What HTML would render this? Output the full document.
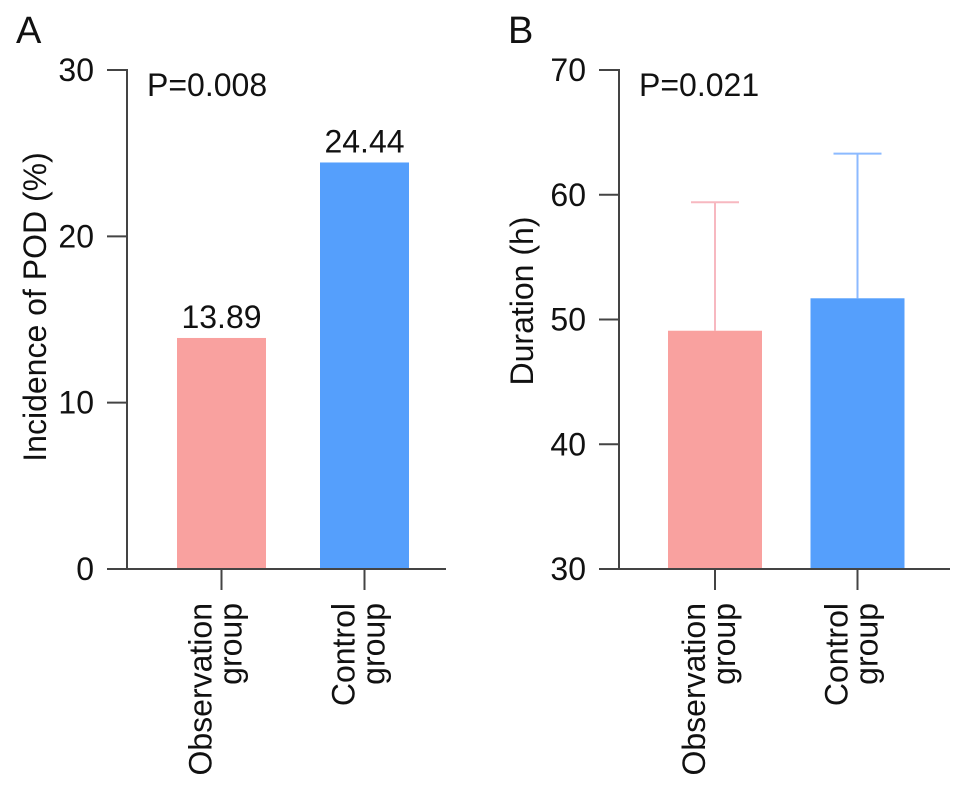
<!DOCTYPE html>
<html><head><meta charset="utf-8"><style>
html,body{margin:0;padding:0;background:#fff;}
svg{display:block;font-family:"Liberation Sans",Arial,sans-serif;}
</style></head><body>
<svg id="fig" width="969" height="790" viewBox="0 0 969 790"></svg>
<script>
const categories = ["Observation group", "Control group"];
const incidenceValues = [13.89, 24.44];
const incidenceLabels = ["13.89", "24.44"];
const incidenceTicks = [0, 10, 20, 30];
const durationMeans = [49.1, 51.7];
const durationUpper = [59.4, 63.3];
const durationTicks = [30, 40, 50, 60, 70];
const barColors = ["#f9a19f", "#559ffc"];
const errColors = ["#f7b8c0", "#8cbaff"];

const FS = 32;
const NS = "http://www.w3.org/2000/svg";
const svg = document.getElementById("fig");
function mk(tag, attrs, parent) {
  const e = document.createElementNS(NS, tag);
  for (const k in attrs) e.setAttribute(k, attrs[k]);
  (parent || svg).appendChild(e);
  return e;
}

function panel(cfg) {
  const g = mk("g", {});
  
  
  const y = v => cfg.y0 - (v - cfg.min) / (cfg.max - cfg.min) * (cfg.y0 - cfg.y1);
  const L = mk("text", {x: cfg.letterX, y: 43, "font-size": 38, fill: "#111"}, g);
  L.textContent = cfg.letter;
  
  
  cfg.cats.forEach((c, i) => {
    const cx = cfg.centers[i];
    const top = y(cfg.values[i]);
    if (cfg.upper) {
      const eb = mk("g", {stroke: errColors[i], "stroke-width": 2}, g);
      
      
      mk("line", {x1: cx, x2: cx, y1: top, y2: y(cfg.upper[i])}, eb);
      mk("line", {x1: cx - 24, x2: cx + 24, y1: y(cfg.upper[i]), y2: y(cfg.upper[i])}, eb);
    }
    const r = mk("rect", {x: cx - cfg.bw / 2, y: top, width: cfg.bw, height: cfg.y0 - top, fill: barColors[i]}, g);
    
    
    if (cfg.labels) {
      const t = mk("text", {x: cx, y: top - 10, "font-size": FS, "text-anchor": "middle", fill: "#111"}, g);
      t.textContent = cfg.labels[i];
      
      
    }
    mk("line", {x1: cx, x2: cx, y1: cfg.y0, y2: cfg.y0 + 21, stroke: "#444", "stroke-width": 2}, g);
    const lines = c.split(" ");
    const tl = mk("text", {transform: `translate(${cx},603) rotate(-90)`, "font-size": FS, "text-anchor": "end", fill: "#111"}, g);
    
    
    mk("tspan", {x: 0, y: -10}, tl).textContent = lines[0];
    mk("tspan", {x: 0, y: 20}, tl).textContent = lines[1];
  });
  const ax = mk("g", {stroke: "#444", "stroke-width": 2}, g);
  
  
  mk("line", {x1: cfg.ax, x2: cfg.ax, y1: cfg.y1 - 1, y2: cfg.y0 + 1}, ax);
  mk("line", {x1: cfg.ax - 20, x2: cfg.xEnd, y1: cfg.y0, y2: cfg.y0}, ax);
  cfg.ticks.forEach(v => {
    mk("line", {x1: cfg.ax - 20, x2: cfg.ax, y1: y(v), y2: y(v)}, ax);
    const t = mk("text", {x: cfg.ax - 33, y: y(v) + 11, "font-size": FS, "text-anchor": "end", fill: "#111"}, g);
    t.textContent = v;
    
    
  });
  const yt = mk("text", {transform: `translate(${cfg.titleX},${cfg.titleY}) rotate(-90)`, "font-size": FS, "text-anchor": "middle", fill: "#111"}, g);
  yt.textContent = cfg.title;
  
  
  const p = mk("text", {x: cfg.ax + 20, y: 96, "font-size": FS, fill: "#111"}, g);
  p.textContent = cfg.p;
  
  
}

panel({name: "panel-a-incidence", letter: "A", letterX: 16, cats: categories, values: incidenceValues, labels: incidenceLabels,
  ticks: incidenceTicks, min: 0, max: 30, y0: 569, y1: 70, ax: 127, xEnd: 446, centers: [221.5, 364.5], bw: 89,
  title: "Incidence of POD (%)", titleX: 46, titleY: 307, p: "P=0.008"});
panel({name: "panel-b-duration", letter: "B", letterX: 508, cats: categories, values: durationMeans, upper: durationUpper,
  ticks: durationTicks, min: 30, max: 70, y0: 569, y1: 70, ax: 619, xEnd: 950, centers: [715, 857.5], bw: 94,
  title: "Duration (h)", titleX: 533, titleY: 301, p: "P=0.021"});
</script>
</body></html>
